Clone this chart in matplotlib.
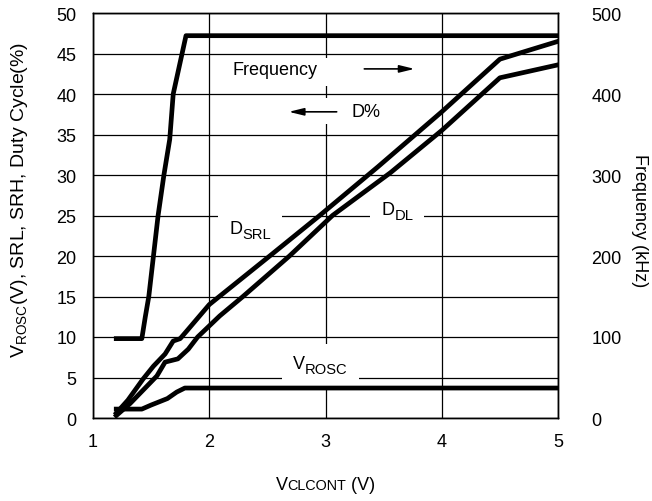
import matplotlib
matplotlib.use("Agg")
import matplotlib.pyplot as plt
from matplotlib.patches import Rectangle
from matplotlib.offsetbox import (TextArea, HPacker, VPacker, DrawingArea,
                                  AnchoredOffsetbox, AnnotationBbox)

plt.rcParams['font.family'] = ['Liberation Sans', 'DejaVu Sans']
plt.rcParams['mathtext.default'] = 'regular'

# Control voltage sweep (V)
freq_v = [1.2, 1.42, 1.45, 1.48, 1.52, 1.56, 1.61, 1.66, 1.69, 1.80, 5.0]
freq_khz = [98, 98, 125, 150, 200, 250, 300, 344, 400, 472, 472]

vrosc_v = [1.2, 1.42, 1.5, 1.64, 1.72, 1.79, 5.0]
vrosc = [1.1, 1.1, 1.6, 2.4, 3.2, 3.7, 3.7]

dsrl_v = [1.2, 1.3, 1.43, 1.52, 1.62, 1.69, 1.75, 1.81, 2.0, 2.52, 2.95, 3.45, 4.0, 4.5, 5.0]
dsrl = [0.6, 2.2, 4.8, 6.4, 7.9, 9.5, 9.8, 10.8, 14.0, 20.0, 25.0, 31.0, 37.8, 44.3, 46.5]

ddl_v = [1.2, 1.32, 1.55, 1.62, 1.73, 1.82, 1.9, 2.09, 2.29, 2.69, 3.06, 3.56, 4.0, 4.5, 5.0]
ddl = [0.3, 1.8, 5.2, 6.9, 7.3, 8.5, 10.0, 12.6, 15.0, 20.0, 25.0, 30.3, 35.5, 42.0, 43.6]

x_ticks = [1, 2, 3, 4, 5]
y_ticks = [0, 5, 10, 15, 20, 25, 30, 35, 40, 45, 50]
f_ticks = [0, 100, 200, 300, 400, 500]

FS = 13
SUB = FS * 0.82

fig = plt.figure(figsize=(6.52, 5.02), dpi=100)
ax = fig.add_axes([93/652, 1 - 419/502, 465/652, 405/502])
ax2 = ax.twinx()

lw = 3.4
ax.plot(dsrl_v, dsrl, color='black', lw=lw, solid_joinstyle='round', zorder=3)
ax.plot(ddl_v, ddl, color='black', lw=lw, solid_joinstyle='round', zorder=3)
ax.plot(vrosc_v, vrosc, color='black', lw=lw, solid_joinstyle='round', zorder=3)
ax2.plot(freq_v, freq_khz, color='black', lw=lw, solid_joinstyle='round', zorder=3)

ax.set_xlim(1, 5)
ax.set_ylim(0, 50)
ax2.set_ylim(0, 500)
ax.set_xticks(x_ticks)
ax.set_yticks(y_ticks)
ax2.set_yticks(f_ticks)
ax.grid(True, color='black', lw=0.9)
ax.set_axisbelow(True)

for a in (ax, ax2):
    a.tick_params(length=0, labelsize=FS)
    for s in a.spines.values():
        s.set_linewidth(1.0)
ax.tick_params(axis='x', pad=11)
ax.tick_params(axis='y', pad=12)
ax2.tick_params(axis='y', pad=24)

# white panels behind the annotations, in axes fractions
for (x0, y0, w, h) in [(0.27, 0.82, 0.25, 0.07), (0.41, 0.725, 0.10, 0.065)]:
    ax.add_patch(Rectangle((x0, y0), w, h, transform=ax.transAxes,
                           facecolor='white', edgecolor='none', zorder=2))

ax.text(2.2, 43.0, 'Frequency', fontsize=FS, ha='left', va='center', zorder=4)
ax.annotate('', xy=(3.79, 43.1), xytext=(3.31, 43.1),
            arrowprops=dict(arrowstyle='-|>,head_length=0.9,head_width=0.22',
                            color='black', lw=1.2), zorder=4)
ax.text(3.22, 37.9, 'D%', fontsize=FS, ha='left', va='center', zorder=4)
ax.annotate('', xy=(2.66, 37.8), xytext=(3.12, 37.8),
            arrowprops=dict(arrowstyle='-|>,head_length=0.9,head_width=0.22',
                            color='black', lw=1.2), zorder=4)


def sub_label(main, low, x, y):
    """Curve label with a lowered, slightly smaller subscript on a white box."""
    lifted = VPacker(children=[TextArea(main, textprops=dict(fontsize=FS)),
                               DrawingArea(1, 3)],
                     align='left', pad=0, sep=0)
    pack = HPacker(children=[lifted,
                             TextArea(low, textprops=dict(fontsize=SUB))],
                   align='bottom', pad=0, sep=0)
    ab = AnnotationBbox(pack, (x, y), xycoords='data', box_alignment=(0, 0.5),
                        frameon=True, pad=0.8,
                        bboxprops=dict(facecolor='white', edgecolor='none'))
    ab.set_zorder(2.5)
    ax.add_artist(ab)


sub_label('D', 'SRL', 2.17, 23.1)
sub_label('D', 'DL', 3.48, 25.5)
sub_label('V', 'ROSC', 2.72, 6.5)

ax.set_ylabel(r'V$_{ROSC}$(V), SRL, SRH, Duty Cycle(%)', fontsize=14, va='center')
ax.yaxis.set_label_coords(-0.157, 0.54)
ax2.set_ylabel('Frequency (kHz)', fontsize=FS, rotation=-90, va='center')
ax2.yaxis.set_label_coords(1.176, 0.49)

# x label with small-caps style subscript on the same baseline
parts = [TextArea('V', textprops=dict(fontsize=FS)),
         TextArea('CLCONT', textprops=dict(fontsize=FS * 0.8)),
         TextArea(' (V)', textprops=dict(fontsize=FS))]
pack = HPacker(children=parts, align='baseline', pad=0, sep=0)
anch = AnchoredOffsetbox(loc='center', child=pack, frameon=False,
                         bbox_to_anchor=(0.5, -0.165), bbox_transform=ax.transAxes,
                         borderpad=0, pad=0)
ax.add_artist(anch)

fig.savefig('out.png', dpi=100)
